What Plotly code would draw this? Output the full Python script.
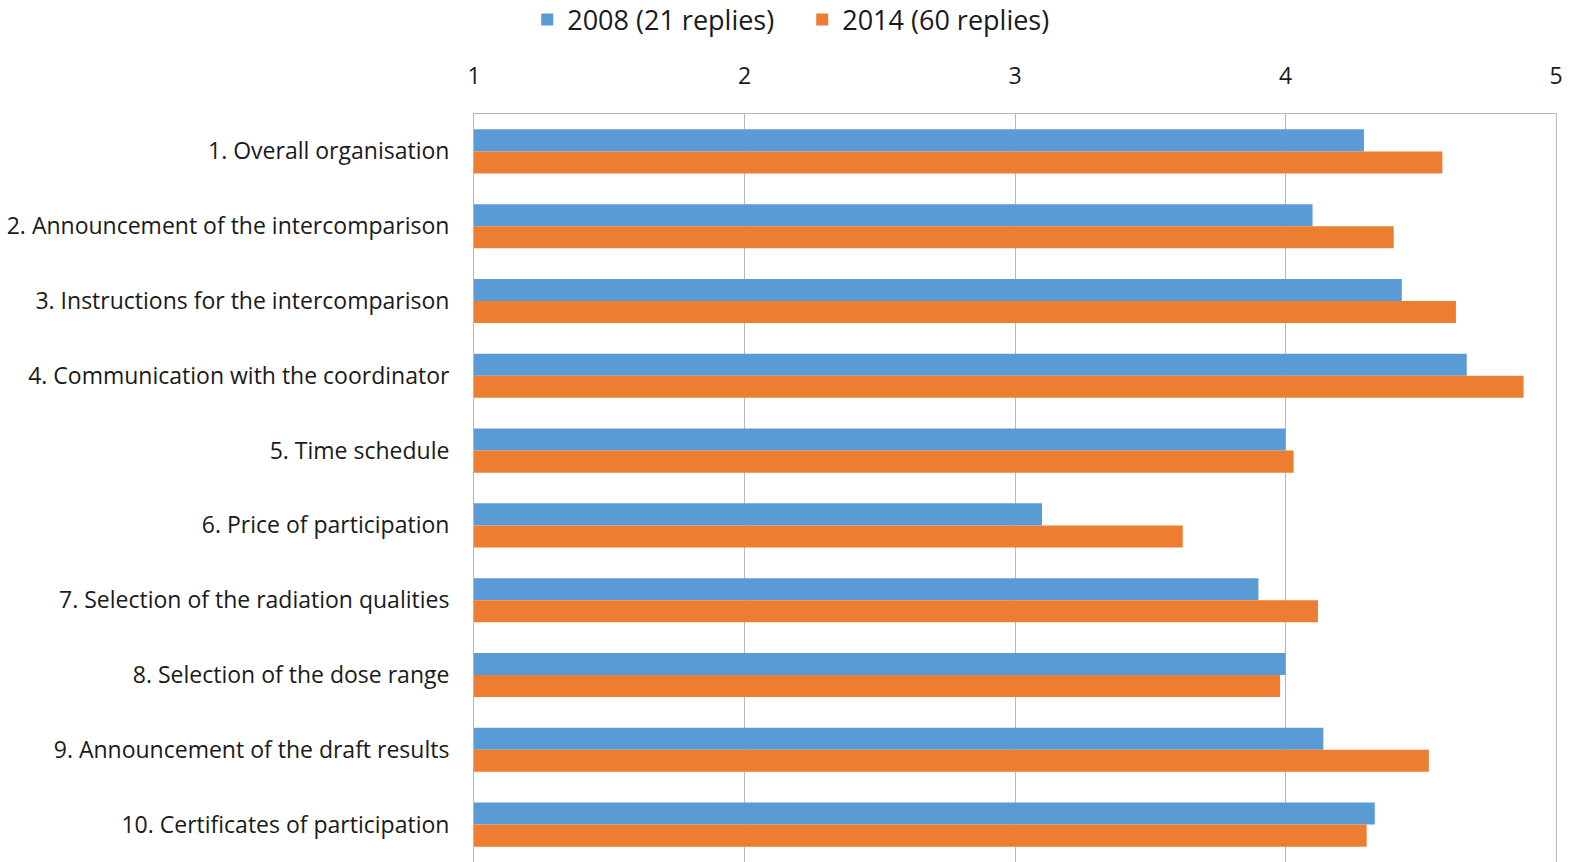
import plotly.graph_objects as go

# ── Data ──────────────────────────────────────────────────────────────────────
CATEGORIES = [
    "1. Overall organisation",
    "2. Announcement of the intercomparison",
    "3. Instructions for the intercomparison",
    "4. Communication with the coordinator",
    "5. Time schedule",
    "6. Price of participation",
    "7. Selection of the radiation qualities",
    "8. Selection of the dose range",
    "9. Announcement of the draft results",
    "10. Certificates of participation",
]
SCORES_2008 = [4.29, 4.10, 4.43, 4.67, 4.00, 3.10, 3.90, 4.00, 4.14, 4.33]
SCORES_2014 = [4.58, 4.40, 4.63, 4.88, 4.03, 3.62, 4.12, 3.98, 4.53, 4.30]
X_TICKS = [1, 2, 3, 4, 5]

# ── Style ─────────────────────────────────────────────────────────────────────
BLUE = "#5B9BD5"
ORANGE = "#ED7D31"
GRID = "#B8B8B8"
TEXT = "#1a1a1a"
FONT = "Open Sans, Lato, sans-serif"

fig = go.Figure()

# bars start at 1 (the axis minimum), so base=1 and length = score - 1
fig.add_trace(go.Bar(
    y=CATEGORIES, x=[v - 1 for v in SCORES_2008], base=1,
    orientation="h", name="2008 (21 replies)",
    marker=dict(color=BLUE, line=dict(width=0)),
))
fig.add_trace(go.Bar(
    y=CATEGORIES, x=[v - 1 for v in SCORES_2014], base=1,
    orientation="h", name="2014 (60 replies)",
    marker=dict(color=ORANGE, line=dict(width=0)),
))

fig.update_layout(
    width=1573, height=862,
    paper_bgcolor="white", plot_bgcolor="white",
    font=dict(family=FONT, size=23, color=TEXT),
    barmode="group", bargap=0.41, bargroupgap=0,
    margin=dict(l=474, r=17, t=114, b=0),
    showlegend=True,
    legend=dict(
        orientation="h", xref="container", x=0.510, xanchor="center",
        yref="container", y=0.977, yanchor="middle",
        font=dict(size=27), traceorder="normal",
        entrywidth=230, entrywidthmode="pixels",
    ),
)

fig.update_xaxes(
    side="top", range=[1, 5], tickvals=X_TICKS,
    showgrid=True, gridcolor=GRID, gridwidth=1,
    showline=True, linecolor=GRID, linewidth=1, mirror=True,
    zeroline=False, ticks="", ticklabelstandoff=20,
    tickfont=dict(size=23),
)
fig.update_yaxes(
    autorange="reversed", type="category",
    showgrid=False, showline=True, linecolor=GRID, linewidth=1, mirror=True,
    ticks="", ticklabelstandoff=19,
)

# the page's default body margin would shift the fixed-size figure
fig.write_html(
    "out.html",
    config={"displayModeBar": False},
    post_script="document.body.style.margin='0';",
)
